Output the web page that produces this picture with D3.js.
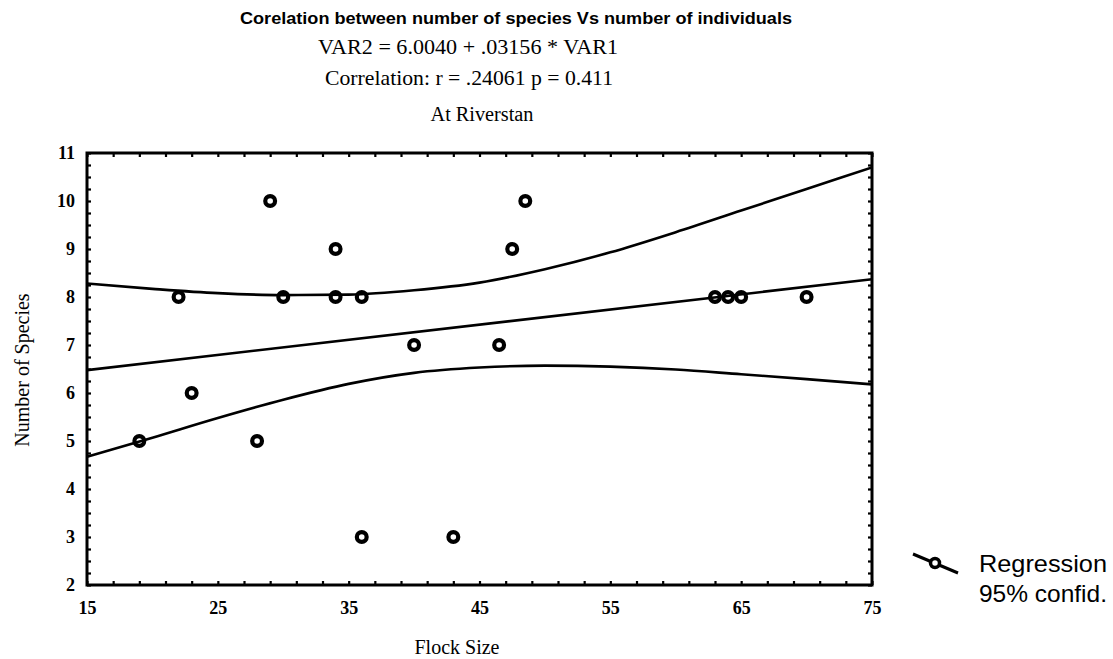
<!DOCTYPE html>
<html><head><meta charset="utf-8">
<script src="https://cdn.jsdelivr.net/npm/d3@7"></script>
<style>body{margin:0;background:#fff}svg{display:block}</style>
</head><body>
<svg id="c" width="1113" height="659"></svg>
<script>
// ---- data ----
const flockSize = [19, 22, 23, 28, 29, 30, 34, 34, 36, 36, 40, 43, 46.5, 47.5, 48.5, 63, 64, 65, 70];
const species   = [5, 8, 6, 5, 10, 8, 9, 8, 8, 3, 7, 3, 7, 9, 10, 8, 8, 8, 8];
const bandX     = [15, 20, 25, 30, 35, 40, 45, 50, 55, 60, 65, 70, 75];
const upper95   = [8.28, 8.17, 8.08, 8.04, 8.05, 8.14, 8.30, 8.58, 8.93, 9.35, 9.80, 10.25, 10.70];
const lower95   = [4.67, 5.07, 5.48, 5.86, 6.19, 6.42, 6.53, 6.57, 6.55, 6.49, 6.39, 6.29, 6.18];
const regX      = [15, 75];
const regY      = [6.477, 8.371];
const xTickLabels = [15, 25, 35, 45, 55, 65, 75];
const yTickLabels = [2, 3, 4, 5, 6, 7, 8, 9, 10, 11];
const titleLines = ["Corelation between number of species Vs number of individuals",
  "VAR2 = 6.0040 + .03156 * VAR1", "Correlation: r = .24061 p = 0.411", "At Riverstan"];
const legendLabels = ["Regression", "95% confid."];

const svg = d3.select("#c");
const L = 87, R = 872, T = 153, B = 585;
const x = d3.scaleLinear().domain([15, 75]).range([L, R]);
const y = d3.scaleLinear().domain([2, 11]).range([B, T]);
const serif = "'Liberation Serif','Times New Roman',serif";
const sans = "'Liberation Sans',Arial,sans-serif";

// titles
svg.append("text").attr("x", 516).attr("y", 24).attr("text-anchor", "middle")
  .attr("font-family", sans).attr("font-weight", "bold").attr("font-size", 16)
  .attr("textLength", 552).attr("lengthAdjust", "spacingAndGlyphs").text(titleLines[0]);
svg.append("text").attr("x", 468).attr("y", 54).attr("text-anchor", "middle")
  .attr("font-family", serif).attr("font-size", 22)
  .attr("textLength", 300).attr("lengthAdjust", "spacingAndGlyphs").text(titleLines[1]);
svg.append("text").attr("x", 469).attr("y", 85).attr("text-anchor", "middle")
  .attr("font-family", serif).attr("font-size", 21)
  .attr("textLength", 288).attr("lengthAdjust", "spacingAndGlyphs").text(titleLines[2]);
svg.append("text").attr("x", 482).attr("y", 121).attr("text-anchor", "middle")
  .attr("font-family", serif).attr("font-size", 20)
  .attr("textLength", 103).attr("lengthAdjust", "spacingAndGlyphs").text(titleLines[3]);

// axes with inward ticks
const g = svg.append("g");
function styleAxis(sel) {
  sel.select(".domain").remove();
  sel.selectAll(".tick line").attr("stroke", "#000").attr("stroke-width", 2.2);
}
g.append("g").attr("transform", `translate(0,${B})`)
  .call(d3.axisTop(x).tickValues(d3.range(15, 75.01, 2)).tickSize(4).tickFormat(""))
  .call(styleAxis);
g.append("g").attr("transform", `translate(0,${T})`)
  .call(d3.axisBottom(x).tickValues(d3.range(15, 75.01, 2)).tickSize(4).tickFormat(""))
  .call(styleAxis);
g.append("g").attr("transform", `translate(${L},0)`)
  .call(d3.axisRight(y).tickValues(d3.range(2, 11.01, 0.25)).tickSize(4).tickFormat(""))
  .call(styleAxis);
g.append("g").attr("transform", `translate(${R},0)`)
  .call(d3.axisLeft(y).tickValues(d3.range(2, 11.01, 0.25)).tickSize(4).tickFormat(""))
  .call(styleAxis);

// tick labels
const xl = g.append("g").attr("transform", `translate(0,${B})`)
  .call(d3.axisBottom(x).tickValues(xTickLabels).tickSize(0).tickPadding(16));
xl.select(".domain").remove();
xl.selectAll("text").attr("font-family", serif).attr("font-weight", "bold").attr("font-size", 18).attr("fill", "#000");
const yl = g.append("g").attr("transform", `translate(${L},0)`)
  .call(d3.axisLeft(y).tickValues(yTickLabels).tickSize(0).tickPadding(12));
yl.select(".domain").remove();
yl.selectAll("text").attr("font-family", serif).attr("font-weight", "bold").attr("font-size", 18).attr("fill", "#000");

// frame
svg.append("rect").attr("x", L).attr("y", T).attr("width", R - L).attr("height", B - T)
  .attr("fill", "none").attr("stroke", "#000").attr("stroke-width", 3);

// axis titles
svg.append("text").attr("x", 457).attr("y", 654).attr("text-anchor", "middle")
  .attr("font-family", serif).attr("font-size", 20).text("Flock Size");
svg.append("text").attr("transform", "translate(29,370) rotate(-90)").attr("text-anchor", "middle")
  .attr("font-family", serif).attr("font-size", 20).text("Number of Species");

// lines
const line = d3.line().curve(d3.curveMonotoneX);
svg.append("clipPath").attr("id", "pc").append("rect")
  .attr("x", L).attr("y", T).attr("width", R - L).attr("height", B - T);
const lines = svg.append("g").attr("clip-path", "url(#pc)");
[upper95, lower95].forEach(arr => {
  lines.append("path").attr("d", line(bandX.map((v, i) => [x(v), y(arr[i])])))
    .attr("fill", "none").attr("stroke", "#000").attr("stroke-width", 2.6);
});
lines.append("path").attr("d", d3.line()(regX.map((v, i) => [x(v), y(regY[i])])))
  .attr("fill", "none").attr("stroke", "#000").attr("stroke-width", 2.6);

// points
svg.append("g").selectAll("circle").data(flockSize).join("circle")
  .attr("cx", d => x(d)).attr("cy", (d, i) => y(species[i])).attr("r", 4.9)
  .attr("fill", "none").attr("stroke", "#000").attr("stroke-width", 4.2);

// legend
const lg = svg.append("g");
lg.append("line").attr("x1", 913).attr("y1", 554).attr("x2", 958).attr("y2", 573)
  .attr("stroke", "#000").attr("stroke-width", 3);
lg.append("circle").attr("cx", 935).attr("cy", 563).attr("r", 4.5).attr("fill", "#fff")
  .attr("stroke", "#000").attr("stroke-width", 3.5);
lg.selectAll("text").data(legendLabels).join("text")
  .attr("x", 979).attr("y", (d, i) => 572 + i * 30)
  .attr("font-family", sans).attr("font-size", 24)
  .attr("textLength", 128).attr("lengthAdjust", "spacingAndGlyphs").text(d => d);
</script>
</body></html>
